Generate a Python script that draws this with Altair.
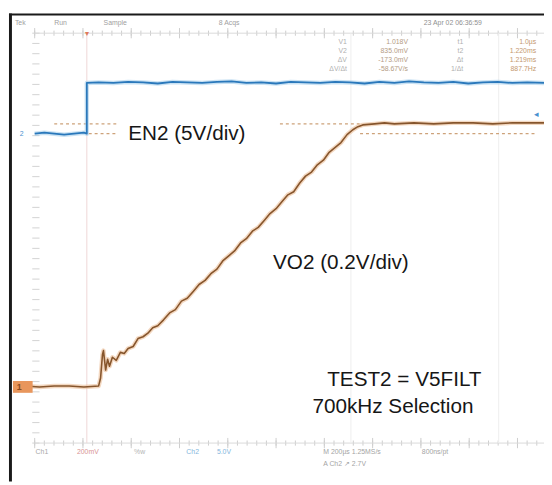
import altair as alt
import pandas as pd

# ---------------- data ----------------
# VO2 on channel 1 (0.2 V/div), time in microseconds after trigger
vo2_t_us = [-257, -196, -135, -73, -12, 49, 57, 65, 69, 78, 86, 94, 106, 122, 139, 155, 171,
            192, 212, 233, 253, 273, 294, 318, 343, 367, 392, 416, 441, 465, 490, 514, 539,
            563, 588, 612, 637, 661, 686, 710, 735, 759, 784, 808, 833, 857, 882, 906, 931,
            955, 980, 1004, 1029, 1053, 1078, 1102, 1123, 1143, 1192, 1233, 1274, 1355, 1437,
            1518, 1600, 1682, 1763, 1845, 1894]
vo2_v = [0.0, -0.004, 0.0, 0.0, -0.004, 0.0, 0.031, 0.123, 0.138, 0.062, 0.104, 0.077, 0.112,
         0.100, 0.131, 0.127, 0.146, 0.154, 0.185, 0.192, 0.206, 0.227, 0.235, 0.258, 0.285,
         0.298, 0.331, 0.342, 0.369, 0.396, 0.412, 0.438, 0.456, 0.488, 0.508, 0.527, 0.558,
         0.575, 0.604, 0.619, 0.646, 0.673, 0.692, 0.719, 0.746, 0.758, 0.792, 0.819, 0.835,
         0.863, 0.881, 0.912, 0.931, 0.950, 0.981, 1.000, 1.012, 1.019, 1.023, 1.027, 1.023,
         1.027, 1.023, 1.027, 1.027, 1.023, 1.027, 1.027, 1.027]

# EN2 on channel 2 (5 V/div)
en2_t_us = [-216, -176, -135, -94, -53, -12, 0, 0, 49, 110, 171, 233, 294, 355, 416, 478, 539,
            600, 661, 722, 784, 845, 906, 967, 1029, 1090, 1151, 1212, 1274, 1335, 1396, 1457,
            1518, 1580, 1641, 1702, 1763, 1824, 1894]
en2_v = [0.0, 0.1, 0.0, -0.1, 0.0, 0.1, 0.0, 4.95, 5.0, 4.95, 5.05, 5.0, 4.9, 5.05, 5.0, 4.95,
         5.05, 5.1, 4.95, 5.0, 4.9, 5.05, 5.0, 4.95, 5.05, 5.0, 4.9, 5.05, 4.95, 5.1, 5.0, 4.95,
         5.05, 4.9, 5.0, 5.05, 4.95, 5.0, 4.95]

ch1_volts_per_div = 0.2
ch1_offset_div = -2.885
ch2_volts_per_div = 5.0
ch2_offset_div = 2.038

cursor_levels_div = [2.231, 2.038]

annotations = ["EN2 (5V/div)", "VO2 (0.2V/div)", "TEST2 = V5FILT", "700kHz Selection"]

# ---------------- tables ----------------
vo2 = pd.DataFrame({"t": vo2_t_us, "v": vo2_v})
vo2["div"] = vo2["v"] / ch1_volts_per_div + ch1_offset_div
vo2["i"] = range(len(vo2))
en2 = pd.DataFrame({"t": en2_t_us, "v": en2_v})
en2["div"] = en2["v"] / ch2_volts_per_div + ch2_offset_div
en2["i"] = range(len(en2))

W, H = 544, 477
xs = alt.Scale(domain=[-326.5, 1893.9], nice=False, zero=False)
ys = alt.Scale(domain=[-4.75, 4.423], nice=False, zero=False)

X0 = -216.0  # graticule left edge (us)
minor_x = [X0 + 40 * k for k in range(0, 53)]
major_x = [X0 + 200 * k for k in range(0, 11)]
minor_y = [-4 + 0.2 * k for k in range(0, 41)]

def P(px, py):
    return dict(x=alt.value(px - 8), y=alt.value(py - 8))

layers = []

# rulers
top_ticks = pd.DataFrame({"t": minor_x, "y1": 3.95, "y2": 4.05})
bot_ticks = pd.DataFrame({"t": minor_x, "y1": -4.05, "y2": -3.95})
maj_ticks = pd.DataFrame({"t": major_x * 2, "y1": [3.9] * 11 + [-4.1] * 11,
                          "y2": [4.1] * 11 + [-3.9] * 11})
left_ticks = pd.DataFrame({"d": minor_y, "t1": -226.0, "t2": -196.0})
for df in (top_ticks, bot_ticks, maj_ticks):
    layers.append(alt.Chart(df).mark_rule(color="#cdcdcd", strokeWidth=1).encode(
        x=alt.X("t:Q", scale=xs, axis=None),
        y=alt.Y("y1:Q", scale=ys, axis=None), y2="y2:Q"))
layers.append(alt.Chart(left_ticks).mark_rule(color="#d2d2d2", strokeWidth=1).encode(
    x=alt.X("t1:Q", scale=xs, axis=None), x2="t2:Q",
    y=alt.Y("d:Q", scale=ys, axis=None)))
hl = pd.DataFrame({"t1": [X0, X0], "t2": [1894, 1894], "d": [4.0, -4.0]})
layers.append(alt.Chart(hl).mark_rule(color="#d9d9d9", strokeWidth=1).encode(
    x=alt.X("t1:Q", scale=xs, axis=None), x2="t2:Q", y=alt.Y("d:Q", scale=ys, axis=None)))

# faint vertical lines (trigger and time cursors)
vl = pd.DataFrame({"t": [0.0, 1094.0, 1706.0], "c": ["a", "b", "b"]})
layers.append(alt.Chart(vl).mark_rule(strokeWidth=1).encode(
    x=alt.X("t:Q", scale=xs, axis=None),
    y=alt.value(30 - 8), y2=alt.value(446 - 8),
    color=alt.Color("c:N", scale=alt.Scale(domain=["a", "b"], range=["#efd6d6", "#eeeeee"]),
                    legend=None)))

# dashed cursor segments
cur = pd.DataFrame({"d": [cursor_levels_div[0], cursor_levels_div[1], cursor_levels_div[0], cursor_levels_div[1]],
                    "t1": [-135, 8, 800, 1132], "t2": [122, 122, 1130, 1857]})
layers.append(alt.Chart(cur).mark_rule(color="#cda27a", strokeWidth=1.2, strokeDash=[3, 3]).encode(
    x=alt.X("t1:Q", scale=xs, axis=None), x2="t2:Q", y=alt.Y("d:Q", scale=ys, axis=None)))

# traces
def trace(df, halo, core, w):
    base = alt.Chart(df).encode(
        x=alt.X("t:Q", scale=xs, axis=None),
        y=alt.Y("div:Q", scale=ys, axis=None),
        order=alt.Order("i:Q"))
    return [base.mark_line(color=halo, strokeWidth=4.5, opacity=0.55, strokeJoin="round"),
            base.mark_line(color=core, strokeWidth=w, strokeJoin="round")]

layers += trace(en2, "#9fcbea", "#2a78bb", 1.8)
layers += trace(vo2, "#e9b88e", "#86552c", 1.6)

# frame
layers.append(alt.Chart(pd.DataFrame({"a": [0]})).mark_rect(color="#1a1a1a").encode(
    x=alt.value(9 - 8), x2=alt.value(12 - 8), y=alt.value(10 - 8), y2=alt.value(H)))
layers.append(alt.Chart(pd.DataFrame({"a": [0]})).mark_rect(color="#1a1a1a").encode(
    x=alt.value(9 - 8), x2=alt.value(W), y=alt.value(10 - 8), y2=alt.value(12 - 8)))

# channel markers
layers.append(alt.Chart(pd.DataFrame({"a": [0]})).mark_rect(color="#e8965c").encode(
    x=alt.value(13 - 8), x2=alt.value(33 - 8), y=alt.value(383 - 8), y2=alt.value(395 - 8)))
def txt(s, px, py, size=7, color="#9a9a9a", align="left", font="Liberation Sans", weight="normal"):
    return alt.Chart(pd.DataFrame({"s": [s]})).mark_text(
        align=align, baseline="middle", fontSize=size, color=color, font=font,
        fontWeight=weight).encode(text="s:N", **P(px, py))
layers.append(txt("1", 17, 389, size=9, color="#8a4a20", weight="bold"))
layers.append(txt("2", 20, 132, size=7, color="#4a92d0"))
layers.append(txt("◂", 542, 112, size=9, color="#4a92d0"))
layers.append(txt("▾", 88, 31, size=8, color="#e07a5a", align="center"))

# header
for s, px in [("Tek", 15), ("Run", 55), ("Sample", 105), ("8 Acqs", 222)]:
    layers.append(txt(s, px, 20, color="#a0a0a0"))
layers.append(txt("23 Apr 02 06:36:59", 430, 20, color="#909090"))
rows = [("V1", "1.018V", "t1", "1.0\u00b5s"), ("V2", "835.0mV", "t2", "1.220ms"),
        ("\u0394V", "-173.0mV", "\u0394t", "1.219ms"), ("\u0394V/\u0394t", "-58.67V/s", "1/\u0394t", "887.7Hz")]
for k, (a, b, c, d) in enumerate(rows):
    yy = 39 + 9 * k
    layers.append(txt(a, 352, yy, color="#b0b0b0", align="right"))
    layers.append(txt(b, 414, yy, color="#b49c84", align="right"))
    layers.append(txt(c, 470, yy, color="#b0b0b0", align="right"))
    layers.append(txt(d, 544, yy, color="#c4986e", align="right"))

# footer
for s, px, col in [("Ch1", 36, "#a8a8a8"), ("200mV", 78, "#d89494"), ("%w", 136, "#b4b4b4"),
                   ("Ch2", 189, "#84b6dd"), ("5.0V", 220, "#84b6dd"),
                   ("M 200\u00b5s 1.25MS/s", 328, "#a4a4a4"), ("800ns/pt", 428, "#a4a4a4")]:
    layers.append(txt(s, px, 455, color=col))
layers.append(txt("A  Ch2  \u2197  2.7V", 328, 467, color="#a4a4a4"))

# annotations
for s, (px, py) in zip(annotations, [(130, 132), (277, 263), (332, 382), (317, 409)]):
    layers.append(txt(s, px, py, size=21, color="#161616"))

chart = alt.layer(*layers).properties(
    width=W, height=H, padding=0, autosize=alt.AutoSizeParams(type="none"),
    background="white"
).configure_view(stroke=None)

chart.save("out.html", embed_options={"renderer": "svg", "actions": False})
